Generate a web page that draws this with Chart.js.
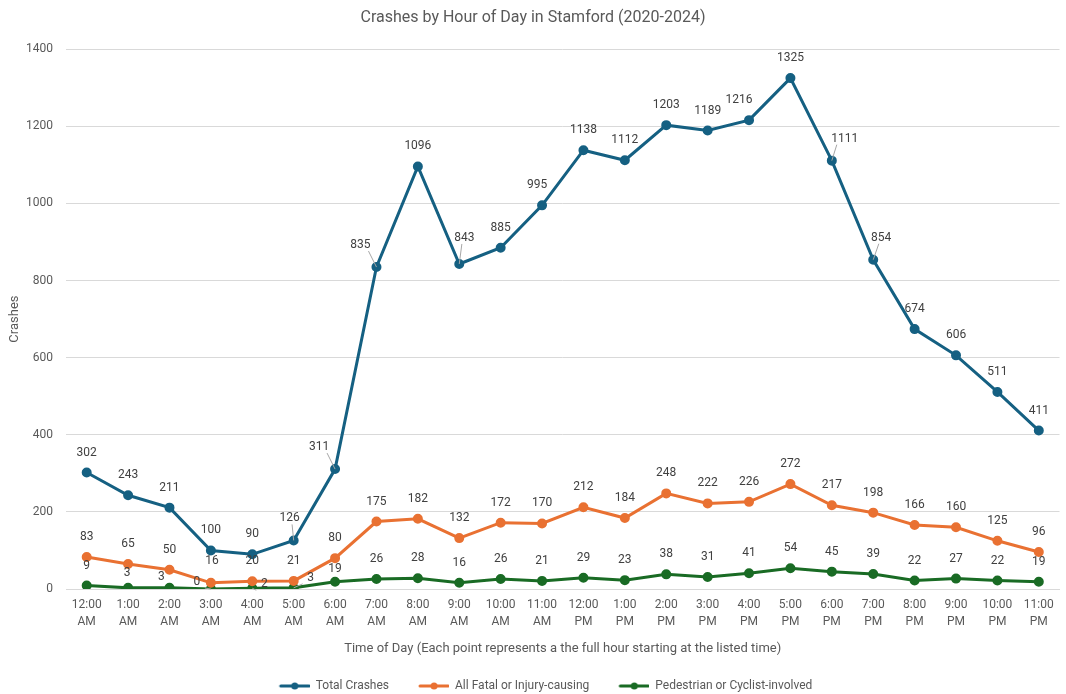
<!DOCTYPE html>
<html>
<head>
<meta charset="utf-8">
<title>Crashes by Hour of Day in Stamford</title>
<script src="https://cdn.jsdelivr.net/npm/chart.js@4.4.1/dist/chart.umd.min.js"></script>
<style>
    html, body { margin: 0; padding: 0; background: #fff; }
    #wrap { width: 1066px; height: 694px; }
</style>
</head>
<body>
<div id="wrap"><canvas id="crash-chart"></canvas></div>
<script>
// data
var hours = [
    ["12:00", "AM"], ["1:00", "AM"], ["2:00", "AM"], ["3:00", "AM"], ["4:00", "AM"], ["5:00", "AM"],
    ["6:00", "AM"], ["7:00", "AM"], ["8:00", "AM"], ["9:00", "AM"], ["10:00", "AM"], ["11:00", "AM"],
    ["12:00", "PM"], ["1:00", "PM"], ["2:00", "PM"], ["3:00", "PM"], ["4:00", "PM"], ["5:00", "PM"],
    ["6:00", "PM"], ["7:00", "PM"], ["8:00", "PM"], ["9:00", "PM"], ["10:00", "PM"], ["11:00", "PM"]
];
var totalCrashes = [302, 243, 211, 100, 90, 126, 311, 835, 1096, 843, 885, 995,
                    1138, 1112, 1203, 1189, 1216, 1325, 1111, 854, 674, 606, 511, 411];
var injuryCrashes = [83, 65, 50, 16, 20, 21, 80, 175, 182, 132, 172, 170,
                     212, 184, 248, 222, 226, 272, 217, 198, 166, 160, 125, 96];
var pedCyclistCrashes = [9, 3, 3, 0, 2, 3, 19, 26, 28, 16, 26, 21,
                         29, 23, 38, 31, 41, 54, 45, 39, 22, 27, 22, 19];
var yTicks = [0, 200, 400, 600, 800, 1000, 1200, 1400];

var BLUE = "#156082";
var ORANGE = "#E97132";
var GREEN = "#196B24";
var TEXT = "#595959";
var FONT = "Roboto, 'Liberation Sans', sans-serif";

// label nudges where Excel moved a label off its point (dx, dy from point, leader line drawn)
var labelMoves = {
    0: { 5: [-4, -22, true], 6: [-16, -22, true], 7: [-16, -22, true], 9: [5, -26, true],
         11: [-5, -20, false], 16: [-10, -20, false], 18: [13, -22, true], 19: [8, -22, true] },
    1: { 3: [1, -22, false] },
    2: { 1: [-1, -15, false], 2: [-8, -11, false], 3: [-14, -7, true], 4: [12, -4, true], 5: [17, -10, true],
         6: [0, -13, false] }
};

// legend swatch: short line with a dot, like the spreadsheet legend
// (left part left blank so items sit apart)
function swatch(color) {
    var c = document.createElement("canvas");
    c.width = 56; c.height = 10;
    var g = c.getContext("2d");
    g.strokeStyle = color; g.lineWidth = 3; g.lineCap = "round";
    g.beginPath(); g.moveTo(27, 5); g.lineTo(55, 5); g.stroke();
    g.fillStyle = color;
    g.beginPath(); g.arc(41, 5, 3.5, 0, Math.PI * 2); g.fill();
    return c;
}

var dataLabels = {
    id: "dataLabels",
    afterDatasetsDraw: function (chart) {
        var ctx = chart.ctx;
        ctx.save();
        ctx.font = "12px " + FONT;
        ctx.fillStyle = "#404040";
        ctx.textAlign = "center";
        ctx.textBaseline = "middle";
        chart.data.datasets.forEach(function (ds, di) {
            var meta = chart.getDatasetMeta(di);
            meta.data.forEach(function (pt, i) {
                var mv = (labelMoves[di] && labelMoves[di][i]) || [0, -20, false];
                var lx = pt.x + mv[0], ly = pt.y + mv[1];
                if (mv[2]) {
                    ctx.strokeStyle = "#a6a6a6";
                    ctx.lineWidth = 1;
                    ctx.beginPath();
                    ctx.moveTo(lx + (mv[0] < 0 ? 8 : -8) * (Math.abs(mv[0]) > 10 ? 1 : 0.3), ly + 6);
                    ctx.lineTo(pt.x, pt.y);
                    ctx.stroke();
                }
                ctx.fillText(String(ds.data[i]), lx, ly);
            });
        });
        ctx.restore();
    }
};

function series(label, data, color) {
    return {
        label: label,
        data: data,
        borderColor: color,
        backgroundColor: color,
        borderWidth: 3,
        pointRadius: 3.5,
        pointHoverRadius: 3.5,
        tension: 0
    };
}

var ctx = document.getElementById("crash-chart").getContext("2d");
var crashChart = new Chart(ctx, {
    type: "line",
    data: {
        labels: hours,
        datasets: [
            series("Total Crashes", totalCrashes, BLUE),
            series("All Fatal or Injury-causing", injuryCrashes, ORANGE),
            series("Pedestrian or Cyclist-involved", pedCyclistCrashes, GREEN)
        ]
    },
    options: {
        responsive: true,
        maintainAspectRatio: false,
        animation: false,
        layout: { padding: { left: 0, right: 0, top: 0, bottom: -8 } },
        plugins: {
            title: {
                display: true,
                text: "Crashes by Hour of Day in Stamford (2020-2024)",
                color: TEXT,
                font: { family: FONT, size: 16, weight: "normal" },
                padding: { top: 8, bottom: 22 }
            },
            legend: {
                position: "bottom",
                labels: {
                    color: TEXT,
                    font: { family: FONT, size: 12 },
                    usePointStyle: true,
                    pointStyleWidth: 56,
                    padding: 4,
                    generateLabels: function (chart) {
                        return chart.data.datasets.map(function (ds, i) {
                            return {
                                text: ds.label,
                                pointStyle: swatch(ds.borderColor),
                                fillStyle: ds.borderColor,
                                strokeStyle: ds.borderColor,
                                lineWidth: 0,
                                fontColor: TEXT,
                                datasetIndex: i
                            };
                        });
                    }
                }
            },
            tooltip: { enabled: false }
        },
        scales: {
            x: {
                offset: true,
                grid: { display: false, drawTicks: false },
                border: { color: "#d9d9d9" },
                ticks: {
                    color: TEXT,
                    font: { family: FONT, size: 12, lineHeight: 1.4 },
                    maxRotation: 0,
                    autoSkip: false,
                    padding: 8
                },
                title: {
                    display: true,
                    text: "Time of Day (Each point represents a the full hour starting at the listed time)",
                    color: TEXT,
                    font: { family: FONT, size: 13 },
                    padding: { top: 0, bottom: 19 }
                },
                afterFit: function (axis) {
                    axis.paddingLeft = 0;
                    axis.paddingRight = 0;
                    axis.height = 87;
                }
            },
            y: {
                min: 0,
                max: 1400,
                afterBuildTicks: function (axis) {
                    axis.ticks = yTicks.map(function (v) { return { value: v }; });
                },
                afterFit: function (axis) {
                    axis.width = 66;
                },
                grid: { color: "#d9d9d9", drawTicks: false },
                border: { display: false },
                ticks: {
                    color: TEXT,
                    font: { family: FONT, size: 12 },
                    padding: 13,
                    callback: function (v) { return String(v); }
                },
                title: {
                    display: true,
                    text: "Crashes",
                    color: TEXT,
                    font: { family: FONT, size: 13 },
                    padding: { top: 7, bottom: 3 }
                }
            }
        }
    },
    plugins: [dataLabels]
});
</script>
</body>
</html>
